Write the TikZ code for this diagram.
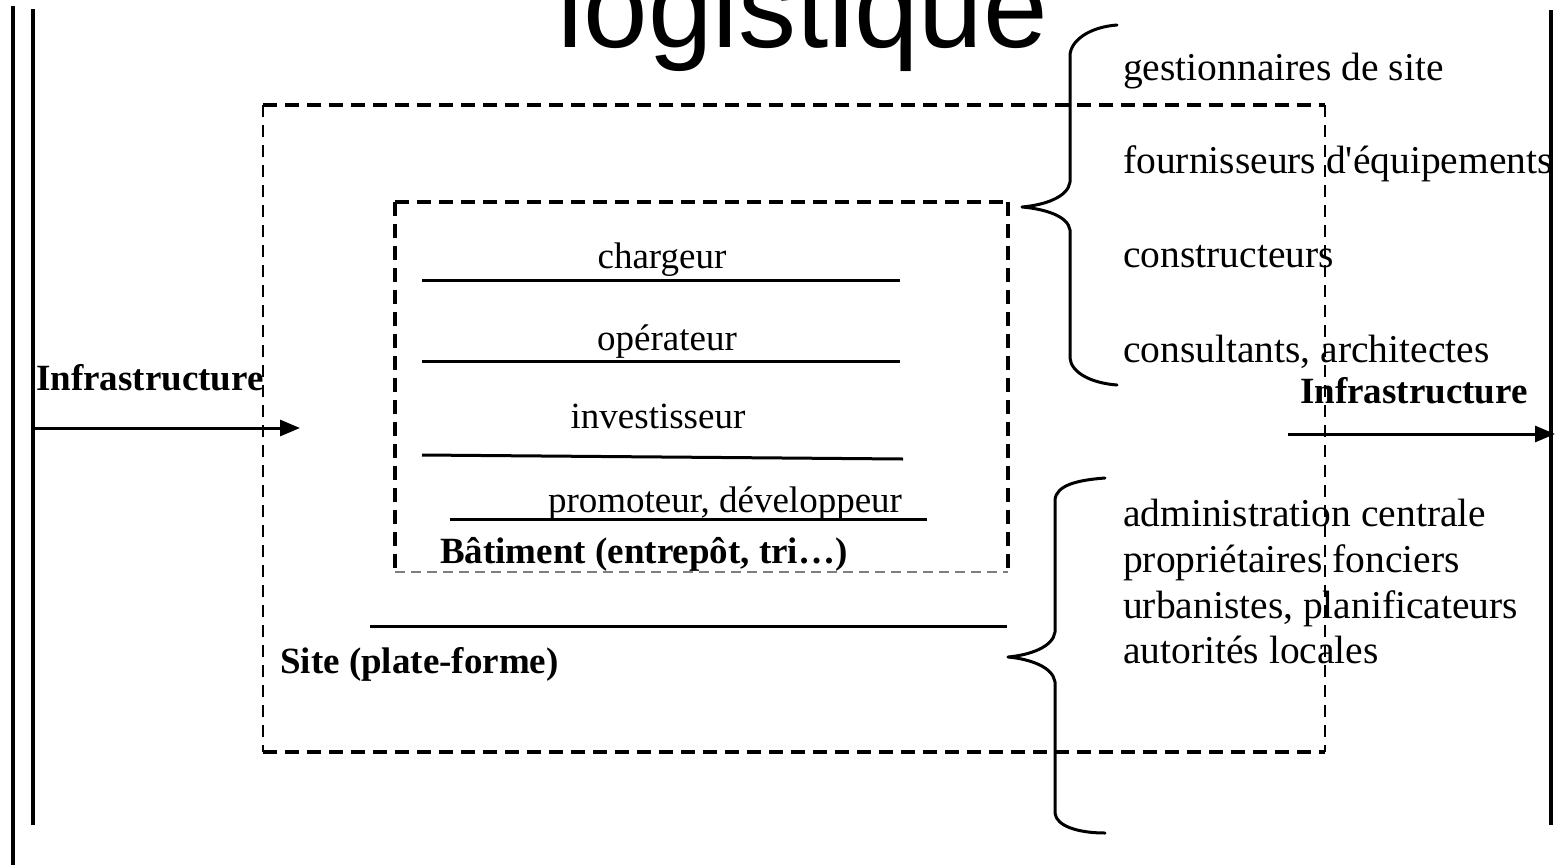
\documentclass[tikz,border=0pt]{standalone}
\usepackage{fontspec}
\setmainfont{Liberation Serif}
\newfontfamily\titlefont{Liberation Sans}
\newfontfamily\plainserif{Liberation Serif}
\usetikzlibrary{arrows.meta}
\begin{document}
\begin{tikzpicture}[x=1pt,y=-1pt,
  txt/.style={inner sep=0pt, anchor=base west, font=\plainserif\fontsize{39.5}{46}\selectfont},
  ctxt/.style={inner sep=0pt, anchor=base, font=\fontsize{37}{44}\selectfont},
  bold/.style={inner sep=0pt, anchor=base west, font=\fontsize{37}{44}\selectfont\bfseries},
  rule/.style={line width=3pt},
  bar/.style={line width=4.5pt},
  thickdash/.style={line width=4pt, dash pattern=on 14pt off 8pt},
  sidedash/.style={line width=4.5pt, dash pattern=on 14pt off 8pt},
  thindash/.style={line width=1.2pt, dash pattern=on 12pt off 8pt},
  greydash/.style={line width=1.6pt, gray, dash pattern=on 10pt off 6pt},
  brace/.style={line width=3pt, line join=round, line cap=round},
  arr/.style={line width=3pt, -{Triangle[length=20pt,width=16pt]}}]
\useasboundingbox (0,0) rectangle (1555,865);

% title
\node[inner sep=0pt, anchor=base] (title) at (803,47) {\titlefont\fontsize{116}{116}\selectfont logistique};

% outer (site) box
\coordinate (oTL) at (263,105); \coordinate (oTR) at (1325,105);
\coordinate (oBL) at (263,752); \coordinate (oBR) at (1325,752);
\draw[thickdash] (oTL) -- (oTR);
\draw[thickdash] (oBL) -- (oBR);
\draw[thindash] (oTL) -- (oBL);
\draw[thindash] (oTR) -- (oBR);

% inner (building) box
\coordinate (iTL) at (395,202); \coordinate (iTR) at (1008,202);
\coordinate (iBL) at (395,572); \coordinate (iBR) at (1008,572);
\draw[thickdash] (iTL) -- (iTR);
\draw[sidedash] (iTL) -- (iBL);
\draw[sidedash] (iTR) -- (iBR);
\draw[greydash] (iBL) -- (iBR);

% actors in the building
\node[ctxt] (charg) at (662,268) {chargeur};
\coordinate (c1) at (422,280); \coordinate (c2) at (900,280);
\draw[rule] (c1) -- (c2);
\node[ctxt] (oper) at (667,350) {opérateur};
\coordinate (o1) at (422,361); \coordinate (o2) at (900,361);
\draw[rule] (o1) -- (o2);
\node[ctxt] (inv) at (658,428) {investisseur};
\coordinate (v1) at (422,455); \coordinate (v2) at (903,459);
\draw[rule] (v1) -- (v2);
\node[ctxt] (prom) at (725,512) {promoteur, développeur};
\coordinate (p1) at (450,519); \coordinate (p2) at (927,519);
\draw[rule] (p1) -- (p2);
\node[bold] (bat) at (440,563) {Bâtiment (entrepôt, tri\ldots)};

% site
\coordinate (s1) at (370,626); \coordinate (s2) at (1007,626);
\draw[rule] (s1) -- (s2);
\node[bold] (site) at (280,673) {Site (plate-forme)};

% infrastructure arrows
\node[bold] (infL) at (36,390) {Infrastructure};
\coordinate (aL1) at (35,428); \coordinate (aL2) at (300,428);
\draw[arr] (aL1) -- (aL2);
\node[bold] (infR) at (1300,403) {Infrastructure};
\coordinate (aR1) at (1288,434); \coordinate (aR2) at (1555,434);
\draw[arr] (aR1) -- (aR2);

% upper brace
\draw[brace] (1117,25) .. controls (1090,27) and (1071,40) .. (1070,55) -- (1070,182)
  .. controls (1068,197) and (1045,205) .. (1022,207)
  .. controls (1045,209) and (1068,216) .. (1070,230) -- (1070,358)
  .. controls (1071,372) and (1090,383) .. (1117,385);
\node[txt] (g1) at (1123,80)  {gestionnaires de site};
\node[txt] (g2) at (1123,173) {fournisseurs d'équipements};
\node[txt] (g3) at (1123,267) {constructeurs};
\node[txt] (g4) at (1123,362) {consultants, architectes};

% lower brace
\draw[brace] (1105,478) .. controls (1078,480) and (1056,485) .. (1055,500) -- (1055,632)
  .. controls (1053,647) and (1030,655) .. (1008,657)
  .. controls (1030,659) and (1053,667) .. (1055,682) -- (1055,813)
  .. controls (1056,826) and (1078,833) .. (1105,833);
\node[txt] (h1) at (1123,526) {administration centrale};
\node[txt] (h2) at (1123,572) {propriétaires fonciers};
\node[txt] (h3) at (1123,618) {urbanistes, planificateurs};
\node[txt] (h4) at (1123,663) {autorités locales};

% side bars
\coordinate (l1a) at (13,6);   \coordinate (l1b) at (13,865);
\coordinate (l2a) at (33,9);   \coordinate (l2b) at (33,825);
\coordinate (r1a) at (1551,10); \coordinate (r1b) at (1551,825);
\draw[bar] (l1a) -- (l1b);
\draw[bar] (l2a) -- (l2b);
\draw[bar] (r1a) -- (r1b);
\end{tikzpicture}
\end{document}
